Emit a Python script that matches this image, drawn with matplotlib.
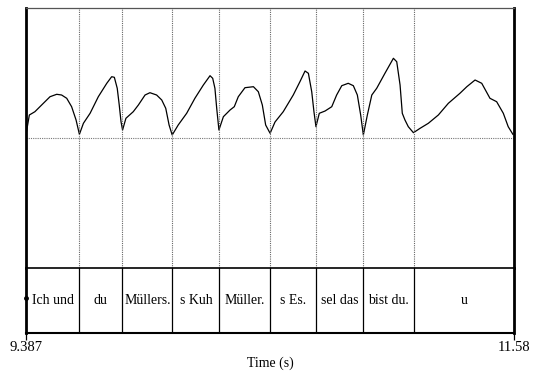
import matplotlib.pyplot as plt

# time range of the picture (s)
t_start = 9.387
t_end = 11.58

# contour: time (s) and height above the dotted reference line
times = [9.387, 9.402, 9.427, 9.465, 9.495, 9.525, 9.547, 9.570, 9.592, 9.612,
         9.627, 9.645, 9.675, 9.712, 9.750, 9.772, 9.784, 9.797, 9.806, 9.814,
         9.821, 9.836, 9.869, 9.892, 9.922, 9.944, 9.974, 9.997, 10.015, 10.030,
         10.044, 10.071, 10.109, 10.146, 10.184, 10.214, 10.226, 10.236, 10.244, 10.254,
         10.274, 10.304, 10.323, 10.341, 10.371, 10.409, 10.431, 10.449, 10.464, 10.484,
         10.506, 10.543, 10.588, 10.618, 10.641, 10.656, 10.671, 10.681, 10.690, 10.705,
         10.731, 10.761, 10.783, 10.806, 10.835, 10.858, 10.876, 10.891, 10.903, 10.921,
         10.941, 10.963, 11.000, 11.038, 11.053, 11.068, 11.078, 11.090, 11.105, 11.128,
         11.158, 11.195, 11.240, 11.285, 11.337, 11.368, 11.405, 11.435, 11.472, 11.502,
         11.532, 11.554, 11.575]
values = [3.0, 22.5, 25.8, 34.2, 40.8, 43.2, 42.5, 39.2, 30.8, 17.5,
          3.2, 14.2, 24.2, 40.8, 54.2, 60.8, 60.2, 49.2, 32.5, 15.8,
          7.5, 19.2, 25.8, 32.5, 42.5, 44.8, 42.5, 37.5, 29.2, 12.5,
          2.5, 12.5, 24.2, 39.2, 52.5, 61.8, 59.2, 49.2, 29.2, 7.5,
          20.8, 27.5, 30.8, 40.8, 49.8, 50.8, 45.8, 32.5, 12.5, 4.2,
          15.5, 25.8, 42.5, 55.8, 66.5, 64.2, 45.8, 25.8, 10.8, 24.2,
          26.5, 30.8, 42.5, 51.8, 54.2, 51.8, 42.5, 22.5, 2.5, 22.5,
          42.5, 49.2, 64.2, 79.2, 75.8, 52.5, 24.2, 17.5, 10.8, 4.8,
          9.2, 14.2, 22.5, 34.2, 44.2, 50.8, 57.5, 54.2, 39.2, 35.8,
          24.2, 10.8, 3.2]

# text tier
boundaries = [9.627, 9.820, 10.045, 10.256, 10.485, 10.690, 10.903, 11.129]
words = ["Ich und", "du", "Müllers.", "s Kuh", "Müller.", "s Es.", "sel das", "bist du.", "u"]

plt.rcParams['font.family'] = ['Liberation Serif', 'DejaVu Serif']

fig = plt.figure(figsize=(5.36, 3.72), dpi=100)
W, H = 536, 372
x0, x1 = 26 / W, 514 / W
ax = fig.add_axes([x0, 1 - 268 / H, x1 - x0, (268 - 8) / H])
tier = fig.add_axes([x0, 1 - 333 / H, x1 - x0, (333 - 268) / H])

# upper panel
ax.plot(times, values, color='black', lw=0.9)
ax.axhline(0, color='#777777', lw=0.8, ls=(0, (1, 1)))
for b in boundaries:
    ax.axvline(b, color='#666666', lw=0.8, ls=(0, (1, 1)))
ax.set_xlim(t_start, t_end)
ax.set_ylim(-130.5, 129.5)
ax.set_xticks([])
ax.set_yticks([])
ax.spines['bottom'].set_visible(False)
ax.spines['top'].set_color('#555555')
ax.spines['top'].set_linewidth(0.9)
for s in ('left', 'right'):
    ax.spines[s].set_linewidth(2.0)

# tier panel
edges = [t_start] + boundaries + [t_end]
for b in boundaries:
    tier.axvline(b, color='black', lw=0.9)
for i, w in enumerate(words):
    tier.text((edges[i] + edges[i + 1]) / 2, 0.5, w, ha='center', va='center', fontsize=10)
tier.plot([t_start + 0.002], [0.54], marker='o', ms=2.5, color='black', clip_on=False)
tier.set_xlim(t_start, t_end)
tier.set_ylim(0, 1)
tier.set_yticks([])
tier.set_xticks([t_start, t_end])
tier.set_xticklabels(['9.387', '11.58'], fontsize=10.5)
tier.tick_params(axis='x', length=5, width=0.9, pad=1)
tier.spines['top'].set_linewidth(1.2)
tier.spines['bottom'].set_linewidth(1.5)
for s in ('left', 'right'):
    tier.spines[s].set_linewidth(2.0)

fig.text(270.5 / W, 1 - 363 / H, 'Time (s)', ha='center', va='center', fontsize=10)

fig.savefig('out.png', dpi=100)
